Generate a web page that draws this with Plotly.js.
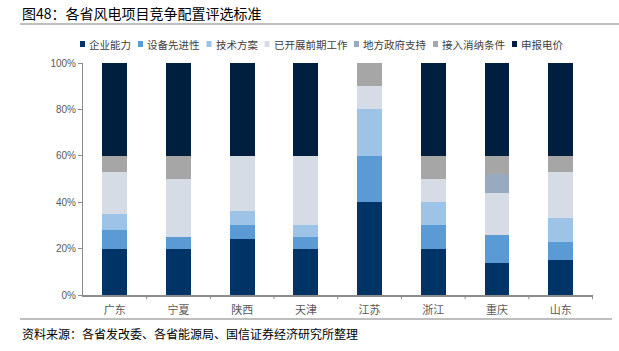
<!DOCTYPE html>
<html><head><meta charset="utf-8">
<script src="https://cdn.plot.ly/plotly-3.0.1.min.js"></script>
<style>html,body{margin:0;padding:0;background:#fff;}#chart{width:619px;height:351px;}</style>
</head><body><div id="chart"></div>
<script>
const provinces = ["广东","宁夏","陕西","天津","江苏","浙江","重庆","山东"];
const seriesNames = ["企业能力","设备先进性","技术方案","已开展前期工作","地方政府支持","接入消纳条件","申报电价"];
const qiye     = [20,20,24,20,40,20,14,15];
const shebei   = [8,5,6,5,20,10,12,8];
const jishu    = [7,0,6,5,20,10,0,10];
const qianqi   = [18,25,24,30,10,10,18,20];
const difang   = [0,0,0,0,0,0,8,0];
const jieru    = [7,10,0,0,10,10,8,7];
const shenbao  = [40,40,40,40,0,40,40,40];
const values = [qiye,shebei,jishu,qianqi,difang,jieru,shenbao];
const colors = ["#003366","#5b9bd5","#9dc3e6","#d6dce5","#97aac0","#a6a6a6","#001f3f"];
const font = "'Noto Sans CJK SC', 'Noto Sans', sans-serif";
const traces = seriesNames.map((n,i)=>({
  type:"bar", name:n, x:provinces, y:values[i],
  marker:{color:colors[i], line:{width:0}},
  hoverinfo:"skip"
}));
const W=619, H=351, ML=83, MR=26, MT=63, MB=56;
const pw = W-ML-MR, ph = H-MT-MB;
function px(x){return (x-ML)/pw;}
function py(y){return (H-MB-y)/ph;}
const layout = {
  width:W, height:H,
  margin:{l:ML, r:MR, t:MT, b:MB, autoexpand:false},
  barmode:"stack", bargap:0.61,
  paper_bgcolor:"#fff", plot_bgcolor:"#fff",
  font:{family:font, size:11, color:"#404040"},
  showlegend:false,
  xaxis:{showline:true, linecolor:"#8c8c8c", linewidth:1.5, ticks:"", showgrid:false,
    tickfont:{size:11, color:"#595959"}, ticklabelstandoff:4, fixedrange:true},
  yaxis:{range:[0,100], dtick:20, ticksuffix:"%", showline:true, linecolor:"#8c8c8c", linewidth:1,
    ticks:"outside", ticklen:4, tickcolor:"#8c8c8c", showgrid:false, zeroline:false,
    tickfont:{size:10, color:"#595959", family:"'Liberation Sans', Arial, sans-serif"}},
  shapes:[], annotations:[]
};
layout.shapes.push({type:"line", xref:"paper", yref:"paper", x0:px(20), x1:px(619), y0:py(24), y1:py(24), line:{color:"#7f7f7f", width:1}});
layout.shapes.push({type:"line", xref:"paper", yref:"paper", x0:px(20), x1:px(612), y0:py(319), y1:py(319), line:{color:"#7f7f7f", width:1}});
for(let k=1;k<=provinces.length;k++){
  layout.shapes.push({type:"line", xref:"x", yref:"paper", x0:k-0.5, x1:k-0.5, y0:0, y1:-0.018, line:{color:"#8c8c8c", width:1}});
}
// custom legend (real text), laid out sequentially
const legFont = 10.5, legStart = 80, legEnd = 562, legY = 44, mk = 5, mkGap = 3;
const totalChars = seriesNames.reduce((s,n)=>s+n.length,0);
const contentW = totalChars*legFont + seriesNames.length*(mk+mkGap);
const itemGap = (legEnd-legStart-contentW)/(seriesNames.length-1);
let cx = legStart;
seriesNames.forEach((n,i)=>{
  layout.shapes.push({type:"rect", xref:"paper", yref:"paper",
    x0:px(cx), x1:px(cx+mk), y0:py(legY+3), y1:py(legY-3),
    fillcolor:colors[i], line:{width:0}});
  layout.annotations.push({text:n, xref:"paper", yref:"paper", x:px(cx+mk+mkGap-1), y:py(legY),
    xanchor:"left", yanchor:"middle", showarrow:false, font:{size:legFont, color:"#404040", family:font}});
  cx += mk + mkGap + n.length*legFont + itemGap;
});
layout.annotations.push({text:"图48：各省风电项目竞争配置评选标准", xref:"paper", yref:"paper", x:px(20), y:py(13), xanchor:"left", yanchor:"middle", showarrow:false, font:{size:14, color:"#000", family:font}});
layout.annotations.push({text:"资料来源：各省发改委、各省能源局、国信证券经济研究所整理", xref:"paper", yref:"paper", x:px(20), y:py(333), xanchor:"left", yanchor:"middle", showarrow:false, font:{size:12, color:"#000", family:font}});
Plotly.newPlot("chart", traces, layout, {displayModeBar:false, staticPlot:true});
</script></body></html>
